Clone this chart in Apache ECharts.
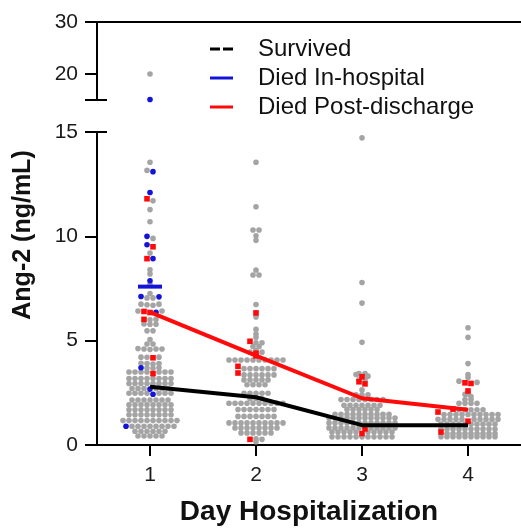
<!DOCTYPE html>
<html>
<head>
<meta charset="utf-8">
<script src="https://cdn.jsdelivr.net/npm/echarts@6/dist/echarts.min.js"></script>
<style>
  html, body { margin: 0; padding: 0; background: #fff; }
  #chart { width: 521px; height: 531px; }
</style>
</head>
<body>
<div id="chart"></div>
<script>
// values (ng/mL), one array per day and group
const days = [1, 2, 3, 4];

const survivedDay1 = [
  20, 13.55, 13.16, 11.7, 11.28, 10.7, 9.9, 9.2, 8.4, 8.2, 7.7,
  7.26, 7.05, 7.05, 6.75, 6.75, 6.72, 6.7, 6.42, 6.42, 6.02, 6.0, 5.8, 5.79, 5.79,
  5.47, 5.47, 5.05, 4.84, 4.84, 4.62, 4.6, 4.6, 4.6, 4.58, 4.21, 4.21, 4.2,
  3.92, 3.9, 3.9, 3.88, 3.7, 3.69, 3.68,
  3.5, 3.5, 3.5, 3.5, 3.5, 3.5, 3.5,
  3.19, 3.19, 3.19, 3.19, 3.19, 3.19, 3.19, 3.19,
  2.95, 2.95, 2.95, 2.95, 2.95, 2.95, 2.95, 2.95,
  2.71, 2.71, 2.71, 2.71, 2.71, 2.71,
  2.48, 2.48, 2.48, 2.48, 2.48, 2.48, 2.48,
  2.16, 2.16, 2.16, 2.16, 2.16, 2.16, 2.16,
  1.93, 1.93, 1.93, 1.93, 1.93, 1.93, 1.93, 1.93,
  1.69, 1.69, 1.69, 1.69, 1.69, 1.69, 1.69, 1.69,
  1.45, 1.45, 1.45, 1.45, 1.45, 1.45, 1.45, 1.45,
  1.17, 1.17, 1.17, 1.17, 1.17, 1.17, 1.17, 1.17, 1.17, 1.17,
  0.9, 0.9, 0.9, 0.9, 0.9, 0.9, 0.9, 0.9,
  0.66, 0.66, 0.66, 0.66, 0.66, 0.66,
  0.43, 0.43, 0.43, 0.43, 0.43
];
const inHospDay1 = [15.1, 13.1, 12.1, 10.0, 9.6, 8.93, 7.87, 7.12, 7.1, 6.36, 3.7, 2.68, 2.43, 0.9];
const postDay1 = [11.8, 9.5, 8.93, 6.4, 6.35, 6.02, 4.18, 3.42];

const survivedDay2 = [
  13.55, 11.42, 10.3, 10.3, 10.03, 9.81, 8.38, 8.15, 8.15, 6.73, 6.14, 5.54, 5.32, 5.16,
  4.9, 4.9, 4.72, 4.72, 4.53, 4.45, 4.45,
  4.07, 4.07, 4.07, 4.07, 4.07, 4.07, 4.07, 4.07, 4.07, 4.07,
  3.66, 3.66, 3.66, 3.66, 3.66, 3.66,
  3.36, 3.36, 3.36, 3.36, 3.36, 3.36,
  3.12, 3.12, 3.12, 3.12, 3.12,
  2.89, 2.89, 2.89, 2.89,
  2.48, 2.48, 2.48, 2.48, 2.48,
  2.22, 2.22, 2.22,
  2.0, 2.0, 2.0, 2.0, 2.0, 2.0, 2.0, 2.0, 2.0, 2.0,
  1.7, 1.7, 1.7, 1.7, 1.7, 1.7, 1.7,
  1.37, 1.37, 1.37, 1.37, 1.37, 1.37, 1.37,
  1.06, 1.06, 1.06, 1.06, 1.06, 1.06, 1.06, 1.06, 1.06, 1.06,
  0.82, 0.82, 0.82, 0.82, 0.82, 0.82, 0.82, 0.82,
  0.58, 0.58, 0.58, 0.58, 0.58, 0.58,
  0.3, 0.27, 0.16
];
const inHospDay2 = [];
const postDay2 = [6.33, 4.97, 4.4, 4.27, 3.77, 3.45, 0.27];

const survivedDay3 = [
  14.72, 7.79, 6.8, 4.92, 3.42, 3.42, 3.38, 3.3, 3.14, 3.14, 2.64,
  2.41, 2.41, 2.41,
  2.18, 2.18, 2.18, 2.18, 2.18, 2.18, 2.18, 2.18,
  1.9, 1.9, 1.9, 1.9, 1.9, 1.9, 1.9,
  1.7, 1.7, 1.7, 1.7, 1.7, 1.7,
  1.47, 1.47, 1.47, 1.47, 1.47, 1.47, 1.47, 1.47, 1.47, 1.47,
  1.29, 1.29, 1.29, 1.29, 1.29, 1.29, 1.29, 1.29, 1.29, 1.29, 1.29, 1.29,
  1.06, 1.06, 1.06, 1.06, 1.06, 1.06, 1.06, 1.06, 1.06, 1.06, 1.06, 1.06,
  0.82, 0.82, 0.82, 0.82, 0.82, 0.82, 0.82, 0.82, 0.82, 0.82, 0.82,
  0.62, 0.62, 0.62, 0.62, 0.62, 0.62, 0.62, 0.62, 0.62, 0.62,
  0.39, 0.39, 0.39, 0.39, 0.39, 0.39, 0.39, 0.39, 0.39, 0.39, 0.39
];
const inHospDay3 = [];
const postDay3 = [3.27, 3.03, 2.93, 0.77, 0.55];

const survivedDay4 = [
  5.62, 5.16, 3.9, 3.38, 3.23, 3.06, 3.0, 2.45, 2.43, 2.32, 2.18, 2.18,
  2.0, 2.0, 2.0, 2.0,
  1.69, 1.69, 1.69, 1.69, 1.69,
  1.46, 1.46, 1.46, 1.46, 1.46, 1.46, 1.46, 1.46, 1.46, 1.46,
  1.23, 1.23, 1.23, 1.23, 1.23, 1.23, 1.23, 1.23, 1.23, 1.23,
  1.0, 1.0, 1.0, 1.0, 1.0, 1.0, 1.0, 1.0, 1.0, 1.0,
  0.77, 0.77, 0.77, 0.77, 0.77, 0.77, 0.77, 0.77, 0.77, 0.77,
  0.55, 0.55, 0.55, 0.55, 0.55, 0.55, 0.55, 0.55, 0.55,
  0.4, 0.4, 0.4, 0.4, 0.4, 0.4, 0.4, 0.4, 0.4, 0.4
];
const inHospDay4 = [];
const postDay4 = [2.95, 2.98, 2.59, 1.72, 1.58, 1.14, 0.62];

// medians joined by the lines
const survivedMedian = [2.79, 2.29, 0.95, 0.95];
const postMedian = [6.37, 4.28, 2.24, 1.69];
const inHospMedian = [7.59];

const lowerTicks = [0, 5, 10, 15];
const upperTicks = [20, 30];
const dayTicks = [1, 2, 3, 4];

const FONT = 'Liberation Sans, Arial, Helvetica, sans-serif';
const GRAY = '#a4a4a4';
const BLUE = '#1414d8';
const RED = '#ff0a0a';
const BREAK = 15;

const chart = echarts.init(document.getElementById('chart'));

const axisLine = { show: true, lineStyle: { color: '#000', width: 2 } };
const tickStyle = { color: '#000', width: 2 };
const labelStyle = { color: '#1a1a1a', fontFamily: FONT, fontSize: 21 };

chart.setOption({
  animation: false,
  backgroundColor: '#fff',
  grid: [
    { left: 97, top: 22, width: 428, height: 78 },
    { left: 97, top: 132, width: 428, height: 317 },
  ],
  xAxis: [
    {
      type: 'value', gridIndex: 0, min: 0.5, max: 4.5, position: 'top',
      axisLine: axisLine, axisTick: { show: false }, axisLabel: { show: false },
      splitLine: { show: false },
    },
    {
      type: 'value', gridIndex: 1, min: 0.5, max: 4.5,
      axisLine: axisLine,
      axisTick: { show: true, length: 11, lineStyle: tickStyle, customValues: dayTicks },
      axisLabel: Object.assign({ margin: 20, customValues: dayTicks }, labelStyle),
      splitLine: { show: false },
      name: 'Day Hospitalization', nameLocation: 'middle', nameGap: 53,
      nameTextStyle: { color: '#111', fontFamily: FONT, fontSize: 28, fontWeight: 'bold' },
    },
  ],
  yAxis: [
    {
      type: 'value', gridIndex: 0, min: BREAK, max: 30, position: 'left',
      axisLine: axisLine,
      axisTick: { show: true, length: 12, lineStyle: tickStyle, customValues: [BREAK].concat(upperTicks) },
      axisLabel: Object.assign({ margin: 19, customValues: upperTicks }, labelStyle),
      splitLine: { show: false },
    },
    {
      type: 'value', gridIndex: 1, min: 0, max: BREAK, interval: 5, position: 'left',
      axisLine: axisLine,
      axisTick: { show: true, length: 12, lineStyle: tickStyle, customValues: lowerTicks },
      axisLabel: Object.assign({ margin: 19, customValues: lowerTicks }, labelStyle),
      splitLine: { show: false },
    },
    // break marks reaching into the plot
    {
      type: 'value', gridIndex: 0, min: BREAK, max: 30, position: 'left',
      axisLine: { show: false },
      axisTick: { show: true, inside: true, length: 10, lineStyle: tickStyle, customValues: [BREAK] },
      axisLabel: { show: false }, splitLine: { show: false },
    },
    {
      type: 'value', gridIndex: 1, min: 0, max: BREAK, position: 'left',
      axisLine: { show: false },
      axisTick: { show: true, inside: true, length: 10, lineStyle: tickStyle, customValues: [BREAK] },
      axisLabel: { show: false }, splitLine: { show: false },
    },
  ],
});

// row swarm: points within one bin height form a centred row, lowest value in the middle
const BIN = 2.6;
const STEP = 6;
function swarm(day, groups) {
  const pts = [];
  groups.forEach((vals, g) => vals.forEach(v => pts.push({ v: v, g: g })));
  pts.sort((a, b) => a.v - b.v);
  const unit = chart.convertToPixel({ gridIndex: 1 }, [day + 1, 0])[0] -
    chart.convertToPixel({ gridIndex: 1 }, [day, 0])[0];
  const rows = [];
  pts.forEach(p => {
    p.grid = p.v > BREAK ? 0 : 1;
    p.py = chart.convertToPixel({ gridIndex: p.grid }, [day, p.v])[1];
    const row = rows[rows.length - 1];
    if (row && row.grid === p.grid && Math.abs(row.y0 - p.py) < BIN) row.pts.push(p);
    else rows.push({ y0: p.py, grid: p.grid, pts: [p] });
  });
  rows.forEach(r => {
    const n = r.pts.length;
    const slots = [];
    for (let i = 0; i < n; i++) slots.push((i - (n - 1) / 2) * STEP);
    slots.sort((a, b) => (Math.abs(a) - Math.abs(b)) || (b - a));
    r.pts.forEach((p, i) => { p.x = day + slots[i] / unit; });
  });
  return pts;
}

const allDays = [
  [survivedDay1, inHospDay1, postDay1],
  [survivedDay2, inHospDay2, postDay2],
  [survivedDay3, inHospDay3, postDay3],
  [survivedDay4, inHospDay4, postDay4],
];
const buckets = [[[], []], [[], []], [[], []]];
allDays.forEach((groups, i) => {
  swarm(days[i], groups).forEach(p => buckets[p.g][p.grid].push([p.x, p.v]));
});

const groupStyle = [
  { name: 'survived dots', symbol: 'circle', size: 5.6, color: GRAY },
  { name: 'in-hospital dots', symbol: 'circle', size: 5.6, color: BLUE },
  { name: 'post-discharge dots', symbol: 'rect', size: 5.6, color: RED },
];
const series = [];
groupStyle.forEach((s, g) => {
  [0, 1].forEach(grid => {
    series.push({
      name: s.name, type: 'scatter', xAxisIndex: grid, yAxisIndex: grid,
      symbol: s.symbol, symbolSize: s.size, z: 2 + g,
      itemStyle: { color: s.color, opacity: 1 },
      data: buckets[g][grid],
    });
  });
});

series.push({
  name: 'Survived', type: 'line', xAxisIndex: 1, yAxisIndex: 1, z: 6,
  showSymbol: false, symbol: 'none', color: '#000',
  lineStyle: { color: '#000', width: 4 },
  data: survivedMedian.map((m, i) => [days[i], m]),
});
series.push({
  name: 'Died Post-discharge', type: 'line', xAxisIndex: 1, yAxisIndex: 1, z: 7,
  showSymbol: false, symbol: 'none', color: RED,
  lineStyle: { color: RED, width: 4 },
  data: postMedian.map((m, i) => [days[i], m]),
});
series.push({
  name: 'Died In-hospital', type: 'custom', xAxisIndex: 1, yAxisIndex: 1, z: 8,
  color: BLUE, itemStyle: { color: BLUE },
  data: inHospMedian.map((m, i) => [days[i], m]),
  renderItem: function (params, api) {
    const c = api.coord([api.value(0), api.value(1)]);
    return {
      type: 'line',
      shape: { x1: c[0] - 12, y1: c[1], x2: c[0] + 12, y2: c[1] },
      style: { stroke: BLUE, lineWidth: 4 },
    };
  },
});

chart.setOption({
  legend: {
    orient: 'vertical', left: 205, top: 32,
    itemWidth: 23, itemHeight: 3, itemGap: 5, selectedMode: false,
    textStyle: { color: '#111', fontFamily: FONT, fontSize: 24, lineHeight: 22, padding: [0, 0, 0, 20] },
    data: [
      { name: 'Survived', icon: 'path://M0,0H10V3H0Z M13,0H23V3H13Z', itemStyle: { color: '#000' } },
      { name: 'Died In-hospital', icon: 'rect', itemStyle: { color: BLUE } },
      { name: 'Died Post-discharge', icon: 'rect', itemStyle: { color: RED } },
    ],
  },
  graphic: [{
    type: 'text', x: 23, y: 235, rotation: Math.PI / 2,
    style: {
      text: 'Ang-2 (ng/mL)', x: 0, y: 0, align: 'center', verticalAlign: 'middle',
      fill: '#111', font: 'bold 25px ' + FONT,
    },
  }],
  series: series,
});
</script>
</body>
</html>
